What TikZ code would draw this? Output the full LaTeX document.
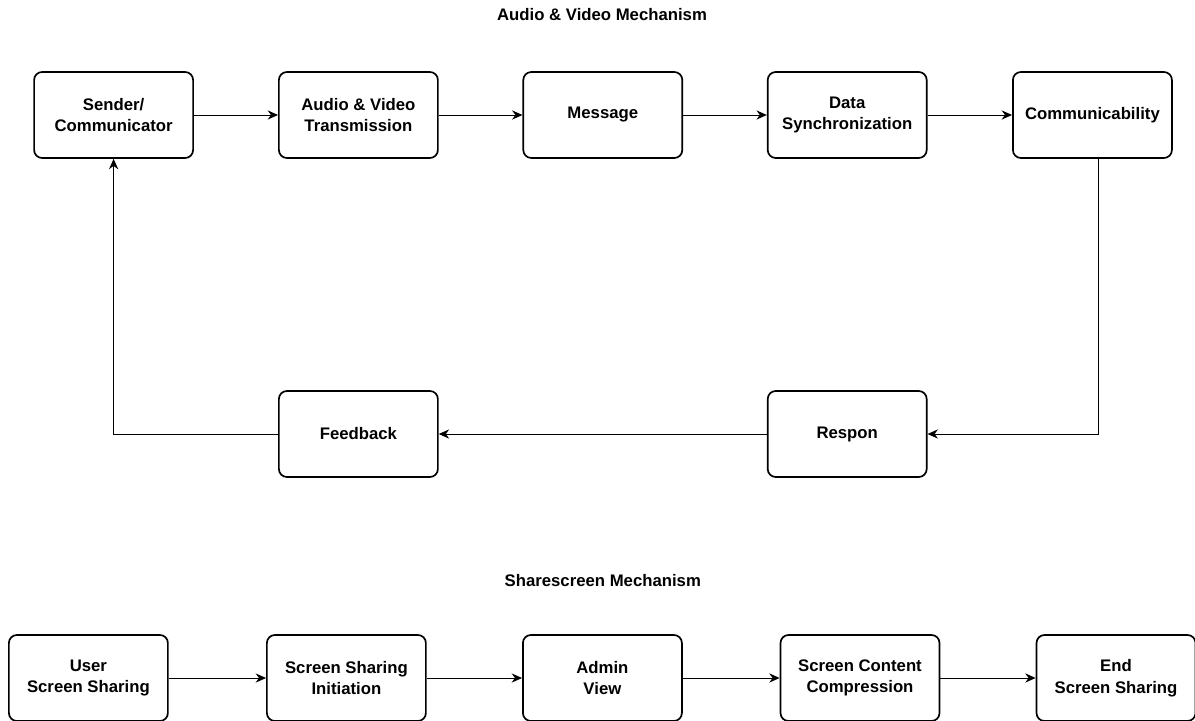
\documentclass[tikz,border=0pt]{standalone}
\usepackage{fontspec}
\setmainfont{Liberation Sans}
\usetikzlibrary{arrows.meta}

\begin{document}
\begin{tikzpicture}[
    every node/.style = {font=\bfseries\fontsize{11.9}{15.4}\selectfont, align=center},
    box/.style   = {draw=black, line width=1.2pt, rounded corners=0.2cm,
                    minimum width=3.975cm, minimum height=2.15cm},
    title/.style = {draw=none},
    flow/.style  = {->, line width=0.7pt},
    >={Stealth[length=2.6mm, width=2.3mm]}
]
\useasboundingbox (0,0) rectangle (29.875,18);

% titles
\node[title] (avtitle) at (15.05, 17.625) {Audio \& Video Mechanism};
\node[title] (sstitle) at (15.07, 3.475)  {Sharescreen Mechanism};

% audio & video: top row
\node[box] (send) at (2.84, 15.125)  {Sender/\\Communicator};
\node[box] (avt)  at (8.96, 15.125)  {Audio \& Video\\Transmission};
\node[box] (msg)  at (15.07, 15.125) {Message};
\node[box] (sync) at (21.18, 15.125) {Data\\Synchronization};
\node[box] (comm) at (27.31, 15.125) {Communicability};

% audio & video: return row
\node[box] (fdbk) at (8.96, 7.15)  {Feedback};
\node[box] (resp) at (21.18, 7.15) {Respon};

% sharescreen row
\node[box] (usr)   at (2.21, 1.05)  {User\\Screen Sharing};
\node[box] (init)  at (8.66, 1.05)  {Screen Sharing\\Initiation};
\node[box] (admin) at (15.06, 1.05) {Admin\\View};
\node[box] (compr) at (21.5, 1.05)  {Screen Content\\Compression};
\node[box] (endss) at (27.9, 1.05)  {End\\Screen Sharing};

% connections: top row
\foreach \a/\b in {send/avt, avt/msg, msg/sync, sync/comm}
    \draw[flow] (\a) -- (\b);

% connections: loop back
\draw[flow] ([xshift=0.16cm]comm.south) |- (resp.east);
\draw[flow] (resp) -- (fdbk);
\draw[flow] (fdbk.west) -| (send.south);

% connections: sharescreen
\foreach \a/\b in {usr/init, init/admin, admin/compr, compr/endss}
    \draw[flow] (\a) -- (\b);

\end{tikzpicture}
\end{document}
